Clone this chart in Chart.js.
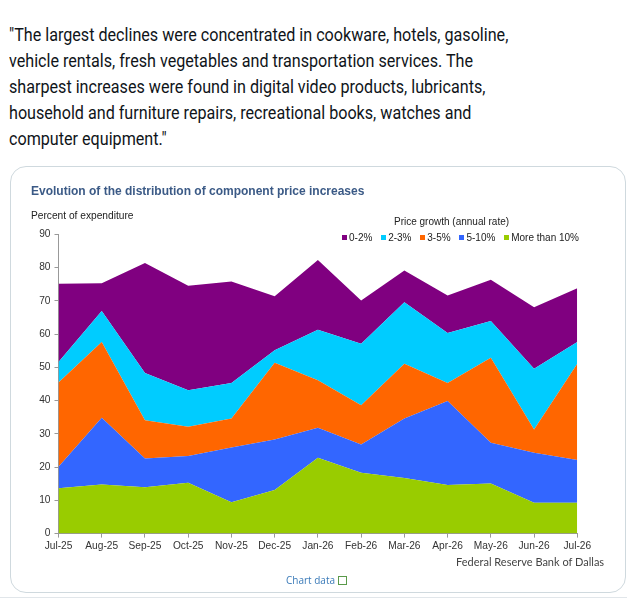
<!DOCTYPE html>
<html>
<head>
<meta charset="utf-8">
<script src="https://cdn.jsdelivr.net/npm/chart.js@4.4.0/dist/chart.umd.min.js"></script>
<style>
  html, body { margin:0; padding:0; background:#fff; width:627px; height:600px; overflow:hidden; }
  #quote { position:absolute; left:9px; top:22px; width:720px; font-family:Roboto, sans-serif; font-size:18.5px; line-height:26px; color:#0f1419; white-space:nowrap; transform:scaleX(0.872); transform-origin:0 0; }
  #card { position:absolute; left:10px; top:166px; width:616px; height:427px; border:1px solid #cfd9de; border-radius:16px; box-sizing:border-box; }
  #sep { position:absolute; left:0; top:597px; width:627px; height:1px; background:#e1e6ea; }
  .t { position:absolute; font-family:"Liberation Sans", Arial, sans-serif; white-space:nowrap; }
  #title { left:31px; top:184px; font-size:12px; font-weight:bold; color:#3b5a86; }
  #ylab { left:31px; top:210px; font-size:10.2px; color:#222; }
  #legtitle { left:394px; top:216px; font-size:10px; color:#222; }
  #legend { left:342px; top:232px; font-size:10px; color:#222; }
  #legend span.sw { display:inline-block; width:5px; height:5px; margin-right:2px; vertical-align:1px; }
  #legend span.it { margin-right:8.8px; }
  #src { left:456px; top:555px; font-family:Lato, sans-serif; font-size:11px; color:#444; }
  #cdata { left:286px; top:573px; font-family:"Open Sans", sans-serif; font-size:10px; color:#3a7ab8; }
  #cdata i { display:inline-block; width:7px; height:7px; border:1px solid #5a9a4a; margin-left:3px; vertical-align:-1px; }
  #cwrap { position:absolute; left:0; top:0; width:627px; height:600px; }
</style>
</head>
<body>
<div id="quote">"The largest declines were concentrated in cookware, hotels, gasoline,<br>vehicle rentals, fresh vegetables and transportation services. The<br>sharpest increases were found in digital video products, lubricants,<br>household and furniture repairs, recreational books, watches and<br>computer equipment."</div>
<div id="card"></div>
<div id="sep"></div>
<div id="cwrap"><canvas id="c" width="627" height="600"></canvas></div>
<div class="t" id="title">Evolution of the distribution of component price increases</div>
<div class="t" id="ylab">Percent of expenditure</div>
<div class="t" id="legtitle">Price growth (annual rate)</div>
<div class="t" id="legend"></div>
<div class="t" id="src">Federal Reserve Bank of Dallas</div>
<div class="t" id="cdata">Chart data<i></i></div>
<script>
const months = ["Jul-25","Aug-25","Sep-25","Oct-25","Nov-25","Dec-25","Jan-26","Feb-26","Mar-26","Apr-26","May-26","Jun-26","Jul-26"];
const yTicks = [0,10,20,30,40,50,60,70,80,90];
const moreThan10 = [13.6,14.8,13.9,15.3,9.4,13.1,22.8,18.3,16.7,14.6,15.1,9.3,9.3];
const p5to10     = [6.5,20.0,8.7,8.0,16.5,15.2,9.0,8.5,17.9,25.3,12.2,15.0,12.8];
const p3to5      = [25.3,22.8,11.5,8.8,8.7,23.1,14.3,11.8,16.5,5.4,25.6,7.0,29.0];
const p2to3      = [6.2,9.3,14.2,11.0,10.7,3.7,15.2,18.5,18.5,15.0,11.0,18.3,6.5];
const p0to2      = [23.5,8.4,33.1,31.4,30.5,16.3,21.0,13.0,9.5,11.3,12.4,18.5,16.2];

const seriesNames = ["0-2%","2-3%","3-5%","5-10%","More than 10%"];
const seriesColors = ["#800080","#00ccff","#ff6600","#3366ff","#99cc00"];
const seriesData = [p0to2,p2to3,p3to5,p5to10,moreThan10];

const leg = document.getElementById('legend');
seriesNames.forEach((n,i)=>{
  const s = document.createElement('span'); s.className='it';
  s.innerHTML = '<span class="sw" style="background:'+seriesColors[i]+'"></span>'+n;
  leg.appendChild(s);
});

const datasets = [];
for (let i = seriesNames.length-1; i >= 0; i--) {
  datasets.push({
    label: seriesNames[i],
    data: seriesData[i],
    backgroundColor: seriesColors[i],
    borderColor: seriesColors[i],
    borderWidth: 0,
    pointRadius: 0,
    tension: 0,
    fill: datasets.length === 0 ? 'origin' : '-1'
  });
}

new Chart(document.getElementById('c'), {
  type: 'line',
  data: { labels: months, datasets },
  options: {
    responsive: false,
    animation: false,
    devicePixelRatio: 1,
    layout: { padding: { left: 18, right: 49.7, top: 234.3, bottom: 46.4 } },
    plugins: { legend: { display:false }, tooltip: { enabled:false } },
    scales: {
      x: {
        offset: false,
        grid: { display:true, drawOnChartArea:false, drawTicks:true, tickLength:4, color:'#999' },
        border: { color:'#999' },
        ticks: { color:'#333', font:{ family:'"Liberation Sans", Arial', size:10.2 }, maxRotation:0, autoSkip:false, padding:2 },
        afterFit: s => { s.height = 20; }
      },
      y: {
        stacked: true,
        min: 0, max: 90,
        afterBuildTicks: s => { s.ticks = yTicks.map(v=>({value:v})); },
        grid: { display:true, drawOnChartArea:false, drawTicks:true, tickLength:4, color:'#999' },
        border: { color:'#999' },
        ticks: { color:'#333', font:{ family:'"Liberation Sans", Arial', size:10.2 }, padding:4 },
        afterFit: s => { s.width = 40.5; }
      }
    }
  }
});
</script>
</body>
</html>
